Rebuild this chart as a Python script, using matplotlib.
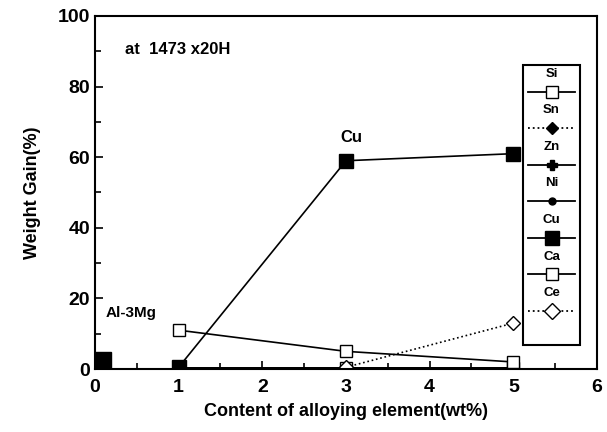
import matplotlib
matplotlib.use("Agg")
import matplotlib.pyplot as plt
from matplotlib.lines import Line2D
from matplotlib.patches import Rectangle

plt.rcParams['font.family'] = ['Liberation Sans', 'DejaVu Sans']
plt.rcParams['font.weight'] = 'bold'

x_elem = [1, 3, 5]
si = [11, 5, 2]
sn = [0.3, 0.3, 0.3]
zn = [0.3, 0.3, 0.3]
ni = [0.3, 0.3, 0.3]
cu = [0.5, 59, 61]
ca = [0.3, 0.3, 0.3]
x_ce = [3, 5]
ce = [0.5, 13]
base_x = [0.1]
base_y = [2.5]

fig = plt.figure(figsize=(6.07, 4.32), dpi=100)
ax = fig.add_axes([0.1565, 0.1458, 0.8270, 0.8172])

ax.plot(x_elem, ca, '-', color='black', lw=1.2, marker='s', ms=9, mfc='white', mec='black')
ax.plot(x_elem, ni, '-', color='black', lw=1.2, marker='o', ms=5, mfc='black')
ax.plot(x_elem, zn, '-', color='black', lw=1.2, marker='P', ms=6, mfc='black')
ax.plot(x_elem, sn, ':', color='black', lw=1.2, marker='D', ms=6, mfc='black')
ax.plot(x_elem, si, '-', color='black', lw=1.2, marker='s', ms=9, mfc='white', mec='black')
ax.plot(x_ce, ce, ':', color='black', lw=1.2, marker='D', ms=7, mfc='white', mec='black')
ax.plot(x_elem, cu, '-', color='black', lw=1.2, marker='s', ms=10, mfc='black', mec='black')
ax.plot(base_x, base_y, 's', color='black', ms=12, clip_on=False, zorder=5)

ax.set_xlim(0, 6)
ax.set_ylim(0, 100)
ax.set_xticks(range(0, 7))
ax.set_yticks(range(0, 101, 20))
ax.set_xticks([i + 0.5 for i in range(6)], minor=True)
ax.set_yticks(range(10, 100, 20), minor=True)
ax.tick_params(direction='in', which='both', labelsize=14, width=1.2)
ax.tick_params(which='major', length=6)
ax.tick_params(which='minor', length=4)
ax.tick_params(axis='x', pad=7)
for lbl in ax.get_xticklabels() + ax.get_yticklabels():
    lbl.set_fontweight('bold')
for s in ax.spines.values():
    s.set_linewidth(1.5)

ax.set_xlabel('Content of alloying element(wt%)', fontsize=13, fontweight='bold', labelpad=5)
ax.set_ylabel('Weight Gain(%)', fontsize=13, fontweight='bold', labelpad=12)

ax.text(0.06, 0.905, 'at  1473 x20H', transform=ax.transAxes, fontsize=12, fontweight='bold', va='center')
ax.text(3.07, 63.5, 'Cu', fontsize=12, fontweight='bold', ha='center', va='bottom')
ax.text(0.13, 16, 'Al-3Mg', fontsize=11, fontweight='bold', ha='left', va='center')

# legend box
x0, x1 = 0.853, 0.966
y0, y1 = 0.068, 0.861
ax.add_patch(Rectangle((x0, y0), x1 - x0, y1 - y0, transform=ax.transAxes,
                       fill=True, fc='white', ec='black', lw=1.5, zorder=6))
leg_names = ['Si', 'Sn', 'Zn', 'Ni', 'Cu', 'Ca', 'Ce']
leg_styles = [('-', 's', 9, 'white'), (':', 'D', 6, 'black'), ('-', 'P', 7, 'black'),
              ('-', 'o', 5, 'black'), ('-', 's', 10, 'black'), ('-', 's', 9, 'white'),
              (':', 'D', 8, 'white')]
cx = (x0 + x1) / 2
for i, (name, (ls, mk, ms, fc)) in enumerate(zip(leg_names, leg_styles)):
    ty = 0.836 - i * 0.1035
    my = ty - 0.05
    ax.text(cx, ty, name, transform=ax.transAxes, fontsize=9.5, fontweight='bold',
            ha='center', va='center', zorder=7)
    ax.add_line(Line2D([x0 + 0.01, x1 - 0.01], [my, my], transform=ax.transAxes,
                       ls=ls, color='black', lw=1.3, marker=None, zorder=7))
    ax.add_line(Line2D([cx], [my], transform=ax.transAxes, ls='none', marker=mk, ms=ms,
                       mfc=fc, mec='black', zorder=8))

fig.savefig('out.png', dpi=100)
